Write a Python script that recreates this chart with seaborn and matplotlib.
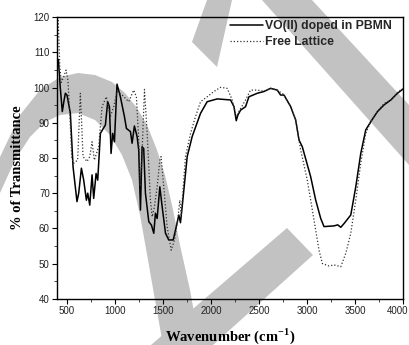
import numpy as np
import pandas as pd
import matplotlib
matplotlib.use("Agg")
import matplotlib.pyplot as plt
from matplotlib.patches import Polygon
from matplotlib.ticker import MultipleLocator
from matplotlib.transforms import ScaledTranslation
import seaborn as sns

# ---- data (wavenumber, % transmittance) ----
vo_wavenumber = [410, 430, 451, 470, 483, 500, 535, 563, 604, 622, 650, 674, 702, 716, 737, 761,
                 778, 803, 820, 848, 900, 924, 942, 959, 976, 994, 1021, 1056, 1098, 1119, 1161,
                 1178, 1202, 1230, 1247, 1265, 1282, 1299, 1317, 1352, 1380, 1404, 1421, 1439,
                 1467, 1491, 1526, 1560, 1606, 1630, 1665, 1682, 1700, 1752, 1804, 1891, 1960,
                 2065, 2204, 2239, 2263, 2280, 2308, 2360, 2395, 2482, 2551, 2621, 2690, 2725,
                 2760, 2830, 2882, 2917, 2951, 3038, 3090, 3143, 3177, 3230, 3282, 3320, 3352,
                 3387, 3456, 3508, 3560, 3612, 3664, 3734, 3803, 3873, 3942, 3995]
vo_transmittance = [108.0, 100.0, 93.2, 96.5, 98.4, 97.9, 92.7, 77.5, 67.6, 70.0, 77.1, 73.7, 68.0,
                    70.0, 66.6, 75.2, 68.5, 75.6, 73.7, 87.0, 89.4, 96.0, 94.6, 81.3, 87.0, 84.6,
                    101.0, 97.4, 91.8, 88.4, 87.5, 84.2, 89.1, 86.1, 82.3, 65.2, 83.2, 82.7, 70.0,
                    61.9, 60.9, 58.6, 64.3, 62.8, 71.8, 66.2, 58.6, 56.7, 56.7, 59.5, 63.8, 61.6,
                    66.2, 80.4, 86.1, 92.7, 96.0, 96.8, 96.5, 94.6, 90.6, 92.2, 93.6, 94.6, 97.4,
                    98.4, 98.9, 99.8, 99.3, 97.9, 97.9, 94.6, 90.8, 85.1, 83.2, 74.7, 68.1, 62.8,
                    60.5, 60.6, 60.7, 61.0, 60.3, 61.4, 63.8, 71.8, 81.3, 88.0, 90.3, 93.2, 95.1,
                    96.5, 98.4, 99.5]

free_wavenumber = [405, 425, 440, 465, 490, 510, 530, 550, 570, 611, 639, 667, 709, 737, 761, 785,
                   830, 865, 910, 952, 987, 1021, 1074, 1143, 1195, 1223, 1247, 1262, 1280, 1307,
                   1335, 1369, 1387, 1411, 1439, 1467, 1480, 1508, 1543, 1585, 1620, 1654, 1675,
                   1690, 1734, 1787, 1839, 1891, 1960, 2030, 2099, 2169, 2221, 2263, 2290, 2360,
                   2412, 2482, 2551, 2621, 2690, 2760, 2830, 2882, 2934, 3003, 3073, 3125, 3160,
                   3229, 3282, 3352, 3404, 3456, 3508, 3560, 3612, 3664, 3734, 3803, 3873, 3942,
                   3995]
free_transmittance = [122.0, 106.0, 101.5, 103.0, 105.0, 102.0, 92.0, 80.0, 78.5, 79.4, 98.4, 80.4,
                      79.0, 80.4, 84.6, 79.4, 83.2, 94.6, 97.4, 91.8, 94.6, 99.0, 97.9, 96.0, 99.3,
                      97.4, 85.1, 72.0, 80.0, 99.5, 87.0, 68.0, 63.3, 66.2, 71.8, 79.4, 80.4, 71.8,
                      60.5, 53.8, 56.7, 62.4, 68.0, 64.0, 80.4, 87.0, 91.8, 96.0, 97.4, 98.9, 100.1,
                      99.8, 96.5, 91.8, 93.2, 96.5, 99.3, 99.3, 99.0, 99.8, 99.3, 98.0, 94.6, 90.8,
                      82.3, 73.7, 62.4, 53.8, 50.0, 49.3, 49.6, 49.1, 52.9, 58.6, 68.0, 78.5, 87.0,
                      90.3, 93.2, 95.5, 96.5, 98.6, 99.8]

series_labels = ["VO(II) doped in PBMN", "Free Lattice"]
x_ticks = [500, 1000, 1500, 2000, 2500, 3000, 3500, 4000]
y_ticks = [40, 50, 60, 70, 80, 90, 100, 110, 120]

# ---- figure ----
sns.set_theme(style="ticks")
plt.rcParams["font.family"] = ["Liberation Sans", "DejaVu Sans"]
plt.rcParams["mathtext.fontset"] = "custom"
plt.rcParams["mathtext.rm"] = "Liberation Serif:bold"
plt.rcParams["mathtext.bf"] = "Liberation Serif:bold"

W, H = 409, 345
fig = plt.figure(figsize=(W / 100, H / 100), dpi=100)
fig.patch.set_facecolor("white")

# decorative grey watermark (present in reference image), drawn behind the axes
def px(points):
    return [(x / W, 1 - y / H) for x, y in points]

wm_color = "#c2c2c2"
arc = px([(0, 157), (20, 115), (40, 90), (60, 77), (78, 73), (95, 75), (112, 82), (125, 93),
          (137, 108), (147, 125), (157, 150), (165, 175), (172, 205), (180, 245), (190, 290),
          (200, 345), (163, 345), (155, 300), (148, 260), (140, 215), (132, 180), (122, 155),
          (110, 135), (95, 120), (78, 113), (60, 115), (45, 122), (30, 137), (15, 160), (5, 182),
          (0, 193)])
lower = px([(151, 345), (287, 228), (313, 255), (213, 345)])
stub = px([(207, 0), (232, 0), (217, 67), (192, 42)])
band = px([(262, 0), (312, 0), (409, 105), (409, 165)])
for poly in (arc, lower, stub, band):
    fig.add_artist(Polygon(poly, closed=True, transform=fig.transFigure,
                           facecolor=wm_color, edgecolor="none", zorder=-5))

ax = fig.add_axes([57.4 / W, 1 - 298.7 / H, (403.0 - 57.4) / W, (298.7 - 17.3) / H])
ax.set_facecolor("none")

df_vo = pd.DataFrame({"wavenumber": vo_wavenumber, "T": vo_transmittance})
df_free = pd.DataFrame({"wavenumber": free_wavenumber, "T": free_transmittance})

sns.lineplot(data=df_vo, x="wavenumber", y="T", ax=ax, color="black", lw=1.1,
             label=series_labels[0], sort=False)
sns.lineplot(data=df_free, x="wavenumber", y="T", ax=ax, color="#333333", lw=0.9,
             linestyle=(0, (1, 1.6)), label=series_labels[1], sort=False)

ax.set_xlim(400, 4000)
ax.set_ylim(40, 120)
ax.set_xticks(x_ticks)
ax.set_yticks(y_ticks)
ax.xaxis.set_minor_locator(MultipleLocator(250))
ax.yaxis.set_minor_locator(MultipleLocator(5))
ax.tick_params(axis="both", which="major", direction="out", length=3.5, width=0.8,
               labelsize=7, colors="black", pad=2)
ax.tick_params(axis="both", which="minor", direction="out", length=2, width=0.6)
ax.tick_params(top=False, right=False, which="both")
for lab in ax.get_xticklabels() + ax.get_yticklabels():
    lab.set_fontfamily("Liberation Sans")
    lab.set_color("#222222")
# keep the last x tick label inside the picture
last = ax.get_xticklabels()[-1]
last.set_horizontalalignment("right")
last.set_transform(last.get_transform() + ScaledTranslation(5 / 100, 0, fig.dpi_scale_trans))

for s in ax.spines.values():
    s.set_visible(True)
    s.set_color("black")
    s.set_linewidth(1.0)

ax.set_xlabel("Wavenumber (cm$^{-1}$)", fontsize=10.5, fontweight="bold",
              family="Liberation Serif", color="black")
ax.set_ylabel("% of Transmittance", fontsize=10.5, fontweight="bold",
              family="Liberation Serif", color="black")
ax.xaxis.set_label_coords(0.4995, -0.097)
ax.yaxis.set_label_coords(-0.097, 0.464)

leg = ax.legend(loc="upper left", bbox_to_anchor=(0.499, 0.99), frameon=False,
                borderpad=0, borderaxespad=0, handlelength=2.7, handletextpad=0.2,
                labelspacing=0.3, prop={"family": "Liberation Sans", "weight": "bold", "size": 8.8})

fig.savefig("out.png", dpi=100, facecolor="white")
